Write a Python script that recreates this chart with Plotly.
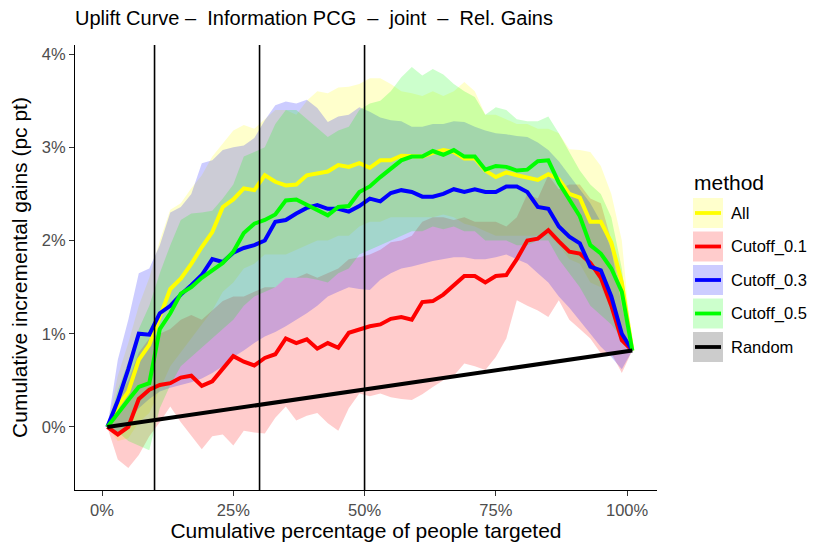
import plotly.graph_objects as go

# x positions (cumulative % of people targeted)
pct = list(range(1, 102, 2))

methods = ["All", "Cutoff_0.1", "Cutoff_0.3", "Cutoff_0.5", "Random"]
colors = {"All": "#FFFF00", "Cutoff_0.1": "#FF0000", "Cutoff_0.3": "#0000FF",
          "Cutoff_0.5": "#00FF00", "Random": "#000000"}
box_fill = {"All": "#FFFFCC", "Cutoff_0.1": "#FFCCCC", "Cutoff_0.3": "#CCCCFF",
            "Cutoff_0.5": "#CCFFCC", "Random": "#CCCCCC"}

gain_all = [0.0, 0.22, 0.38, 0.72, 0.88, 1.18, 1.48, 1.59, 1.75, 1.93,
            2.09, 2.36, 2.44, 2.56, 2.54, 2.70, 2.63, 2.59, 2.60, 2.70,
            2.72, 2.74, 2.81, 2.79, 2.83, 2.78, 2.86, 2.86, 2.91, 2.91,
            2.90, 2.94, 2.97, 2.95, 2.88, 2.88, 2.75, 2.68, 2.73, 2.70,
            2.68, 2.65, 2.71, 2.66, 2.50, 2.46, 2.20, 2.20, 1.98, 1.55, 0.82]
low_all = [0.0, -0.15, -0.12, 0.05, 0.15, 0.40, 0.65, 0.80, 0.95, 1.10,
           1.25, 1.45, 1.55, 1.70, 1.75, 1.85, 1.85, 1.85, 1.90, 1.95,
           2.00, 2.00, 2.05, 2.05, 2.15, 2.20, 2.20, 2.25, 2.25, 2.25,
           2.25, 2.25, 2.28, 2.25, 2.18, 2.15, 2.10, 2.05, 2.05, 2.05,
           2.05, 2.05, 2.05, 1.95, 1.80, 1.75, 1.55, 1.50, 1.25, 0.95, 0.82]
up_all = [0.0, 0.55, 0.90, 1.30, 1.60, 2.00, 2.33, 2.40, 2.56, 2.70,
          2.90, 3.04, 3.18, 3.24, 3.20, 3.30, 3.40, 3.40, 3.35, 3.50,
          3.60, 3.58, 3.64, 3.65, 3.68, 3.74, 3.74, 3.68, 3.60, 3.58,
          3.55, 3.60, 3.55, 3.60, 3.70, 3.60, 3.35, 3.35, 3.30, 3.25,
          3.25, 3.20, 3.20, 3.15, 2.98, 2.97, 2.95, 2.80, 2.50, 2.00, 0.82]

gain_c01 = [0.0, -0.08, 0.0, 0.30, 0.40, 0.45, 0.47, 0.53, 0.55, 0.44,
            0.49, 0.62, 0.76, 0.70, 0.66, 0.74, 0.78, 0.95, 0.90, 0.94,
            0.84, 0.90, 0.85, 1.01, 1.05, 1.08, 1.10, 1.16, 1.18, 1.15,
            1.34, 1.35, 1.42, 1.52, 1.62, 1.62, 1.55, 1.62, 1.63, 1.80,
            2.00, 2.02, 2.11, 1.99, 1.88, 1.86, 1.76, 1.60, 1.30, 0.93, 0.82]
low_c01 = [0.0, -0.35, -0.44, -0.30, -0.10, 0.05, 0.22, 0.05, -0.10, -0.24,
           -0.10, -0.08, -0.20, -0.04, -0.06, -0.07, 0.10, 0.22, 0.07, 0.12,
           0.15, 0.04, -0.04, 0.20, 0.36, 0.33, 0.36, 0.32, 0.30, 0.29,
           0.35, 0.43, 0.50, 0.55, 0.68, 0.65, 0.61, 0.75, 0.95, 1.36,
           1.30, 1.25, 1.18, 1.36, 1.15, 1.05, 0.95, 0.79, 0.79, 0.58, 0.82]
up_c01 = [0.0, 0.30, 0.50, 0.80, 0.95, 1.00, 1.05, 1.15, 1.20, 1.15,
          1.25, 1.35, 1.40, 1.40, 1.45, 1.50, 1.50, 1.60, 1.60, 1.65,
          1.60, 1.65, 1.70, 1.80, 1.82, 1.85, 1.90, 1.98, 2.00, 2.05,
          2.20, 2.25, 2.25, 2.22, 2.25, 2.20, 2.20, 2.20, 2.15, 2.25,
          2.50, 2.45, 2.70, 2.55, 2.60, 2.60, 2.45, 2.40, 2.00, 1.40, 0.82]

gain_c03 = [0.0, 0.28, 0.62, 1.00, 0.99, 1.22, 1.30, 1.42, 1.52, 1.63,
            1.80, 1.77, 1.87, 1.92, 1.95, 2.00, 2.20, 2.22, 2.29, 2.35,
            2.38, 2.34, 2.34, 2.31, 2.37, 2.45, 2.42, 2.51, 2.54, 2.52,
            2.47, 2.47, 2.50, 2.55, 2.52, 2.55, 2.52, 2.52, 2.58, 2.58,
            2.52, 2.36, 2.34, 2.15, 2.04, 1.97, 1.72, 1.68, 1.40, 1.00, 0.82]
low_c03 = [0.0, -0.10, 0.05, 0.20, 0.30, 0.38, 0.42, 0.45, 0.48, 0.52,
           0.58, 0.65, 0.75, 0.82, 0.90, 0.97, 1.02, 1.08, 1.15, 1.22,
           1.30, 1.40, 1.45, 1.50, 1.48, 1.47, 1.58, 1.65, 1.70, 1.72,
           1.75, 1.78, 1.80, 1.82, 1.82, 1.80, 1.80, 1.82, 1.85, 1.80,
           1.75, 1.65, 1.55, 1.40, 1.28, 1.15, 1.00, 0.86, 0.75, 0.62, 0.82]
up_c03 = [0.0, 0.72, 1.15, 1.65, 1.70, 1.95, 2.30, 2.36, 2.50, 2.83,
          2.86, 2.97, 3.00, 3.02, 3.10, 3.29, 3.45, 3.49, 3.47, 3.51,
          3.42, 3.27, 3.33, 3.35, 3.43, 3.38, 3.32, 3.29, 3.28, 3.22,
          3.22, 3.25, 3.25, 3.28, 3.27, 3.22, 3.18, 3.15, 3.14, 3.12,
          3.11, 3.05, 2.97, 2.85, 2.70, 2.55, 2.40, 2.20, 1.90, 1.30, 0.82]

gain_c05 = [0.0, 0.15, 0.29, 0.43, 0.47, 1.05, 1.22, 1.43, 1.50, 1.60,
            1.68, 1.76, 1.88, 2.08, 2.18, 2.22, 2.28, 2.43, 2.44, 2.38,
            2.33, 2.27, 2.36, 2.37, 2.52, 2.58, 2.68, 2.77, 2.86, 2.90,
            2.90, 2.96, 2.92, 2.97, 2.90, 2.90, 2.76, 2.80, 2.79, 2.75,
            2.76, 2.85, 2.86, 2.62, 2.44, 2.26, 1.95, 1.86, 1.70, 1.45, 0.82]
low_c05 = [0.0, -0.05, -0.15, -0.20, -0.25, 0.20, 0.45, 0.65, 0.75, 0.85,
           0.95, 1.05, 1.15, 1.30, 1.40, 1.45, 1.50, 1.60, 1.60, 1.60,
           1.58, 1.55, 1.65, 1.70, 1.85, 1.90, 1.95, 2.00, 2.05, 2.10,
           2.10, 2.15, 2.12, 2.15, 2.10, 2.10, 2.00, 2.00, 2.00, 1.95,
           1.95, 2.00, 2.00, 1.80, 1.65, 1.50, 1.30, 1.20, 1.10, 0.95, 0.82]
up_c05 = [0.0, 0.40, 0.70, 1.05, 1.30, 1.65, 1.95, 2.22, 2.29, 2.30,
          2.32, 2.45, 2.60, 2.90, 2.95, 3.00, 3.25, 3.40, 3.40, 3.30,
          3.20, 3.11, 3.18, 3.22, 3.40, 3.47, 3.50, 3.60, 3.75, 3.86,
          3.77, 3.84, 3.78, 3.68, 3.60, 3.54, 3.35, 3.43, 3.40, 3.30,
          3.28, 3.28, 3.33, 3.15, 2.95, 2.75, 2.60, 2.50, 2.25, 1.70, 0.82]

random_x = [1, 101]
random_y = [0.0, 0.82]

cutoffs = [10, 30, 50]

x_ticks = [0, 25, 50, 75, 100]
y_ticks = [0, 1, 2, 3, 4]

series = {
    "All": (gain_all, low_all, up_all),
    "Cutoff_0.1": (gain_c01, low_c01, up_c01),
    "Cutoff_0.3": (gain_c03, low_c03, up_c03),
    "Cutoff_0.5": (gain_c05, low_c05, up_c05),
}


def rgba(hex_color, a):
    h = hex_color.lstrip("#")
    r, g, b = int(h[0:2], 16), int(h[2:4], 16), int(h[4:6], 16)
    return "rgba(%d,%d,%d,%s)" % (r, g, b, a)


fig = go.Figure()

# ribbons
for m, (g, lo, up) in series.items():
    fig.add_trace(go.Scatter(
        x=pct + pct[::-1], y=up + lo[::-1],
        fill="toself", fillcolor=rgba(colors[m], 0.2),
        line=dict(width=0), mode="lines",
        hoverinfo="skip", showlegend=False))

# lines
for m, (g, lo, up) in series.items():
    fig.add_trace(go.Scatter(
        x=pct, y=g, mode="lines", name=m,
        line=dict(color=colors[m], width=4), showlegend=False))

fig.add_trace(go.Scatter(
    x=random_x, y=random_y, mode="lines", name="Random",
    line=dict(color=colors["Random"], width=4), showlegend=False))

for c in cutoffs:
    fig.add_vline(x=c, line=dict(color="black", width=1.6))

# page body has an 8px margin, so work in figure pixels = screen - 8
OFF = 8
ML, MR, MT, MB = 75 - OFF, 173 + OFF, 45 - OFF, 64 + OFF
W, H = 830, 554
PW, PH = W - ML - MR, H - MT - MB


def px(xs):
    return (xs - OFF - ML) / PW


def py(ys):
    return (H - MB - (ys - OFF)) / PH


# hand-built legend (ggplot style keys)
fig.add_annotation(x=px(692), y=py(182), xref="paper", yref="paper",
                   text="method", showarrow=False, xanchor="left", yanchor="middle",
                   font=dict(size=21, color="black"))
for i, m in enumerate(methods):
    top = 198 + 33.5 * i
    mid = top + 15
    fig.add_shape(type="rect", xref="paper", yref="paper",
                  x0=px(693), x1=px(723), y0=py(top + 30), y1=py(top),
                  fillcolor=box_fill[m], line=dict(width=0))
    fig.add_shape(type="line", xref="paper", yref="paper",
                  x0=px(695), x1=px(721), y0=py(mid), y1=py(mid),
                  line=dict(color=colors[m], width=3.8))
    fig.add_annotation(x=px(729), y=py(mid), xref="paper", yref="paper",
                       text=m, showarrow=False, xanchor="left", yanchor="middle",
                       font=dict(size=16.5, color="black"))

nb = "\u00a0"
title = ("Uplift Curve \u2013" + nb * 2 + "Information PCG" + nb * 2 + "\u2013" + nb * 2
         + "joint" + nb * 2 + "\u2013" + nb * 2 + "Rel. Gains")

fig.update_layout(
    width=W, height=H,
    margin=dict(l=ML, r=MR, t=MT, b=MB),
    paper_bgcolor="white", plot_bgcolor="white",
    font=dict(family="Liberation Sans, Arial, sans-serif", color="black"),
    showlegend=False,
    title=dict(text=title, x=0, xref="paper", xanchor="left",
               y=1 - (18 - OFF) / H, yref="container", yanchor="middle",
               font=dict(size=20, color="black")),
)
fig.update_xaxes(
    range=[-5.15, 105.7], tickvals=x_ticks, ticktext=["%d%%" % t for t in x_ticks],
    showgrid=False, zeroline=False, showline=True, linecolor="black", linewidth=1.1,
    ticks="outside", ticklen=5, tickcolor="#333333", tickwidth=1,
    tickfont=dict(size=16.5, color="#4D4D4D"), automargin=False,
    title=dict(text="Cumulative percentage of people targeted",
               font=dict(size=21, color="black"), standoff=5),
)
fig.update_yaxes(
    range=[-0.676, 4.097], tickvals=y_ticks, ticktext=["%d%%" % t for t in y_ticks],
    showgrid=False, zeroline=False, showline=True, linecolor="black", linewidth=1.1,
    ticks="outside", ticklen=5, tickcolor="#333333", tickwidth=1,
    tickfont=dict(size=16.5, color="#4D4D4D"), automargin=False,
    title=dict(text="Cumulative incremental gains (pc pt)",
               font=dict(size=21, color="black"), standoff=12),
)

fig.write_html("out.html")
